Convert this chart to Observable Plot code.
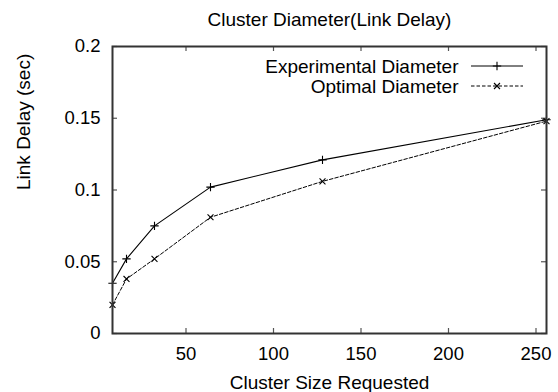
<!DOCTYPE html>
<html>
<head>
<meta charset="utf-8">
<script src="https://cdn.jsdelivr.net/npm/d3@7"></script>
<script src="https://cdn.jsdelivr.net/npm/@observablehq/plot@0.6"></script>
<style>
  html, body { margin: 0; padding: 0; background: #fff; }
  #chart { width: 558px; height: 392px; }
</style>
</head>
<body>
<div id="chart"></div>
<script>
// ---- data ----
const clusterSizes = [8, 16, 32, 64, 128, 256];
const experimentalDiameter = [0.035, 0.052, 0.075, 0.102, 0.121, 0.149];
const optimalDiameter = [0.020, 0.038, 0.052, 0.081, 0.106, 0.148];
const xTicks = [50, 100, 150, 200, 250];
const yTicks = [0, 0.05, 0.1, 0.15, 0.2];
const yTickLabels = ["0", "0.05", "0.1", "0.15", "0.2"];
const seriesNames = ["Experimental Diameter", "Optimal Diameter"];
const titleText = "Cluster Diameter(Link Delay)";
const xLabel = "Cluster Size Requested";
const yLabel = "Link Delay (sec)";

// ---- layout ----
const W = 558, H = 392;
const mL = 112, mR = 12, mT = 46, mB = 59;
const frameW = W - mL - mR, frameH = H - mT - mB;
const tickLen = 5;
const FONT = "'Liberation Sans', Arial, Helvetica, sans-serif";
const DASH = "3.5,2";

const expData = clusterSizes.map((s, i) => ({x: s, y: experimentalDiameter[i]}));
const optData = clusterSizes.map((s, i) => ({x: s, y: optimalDiameter[i]}));

const plot = Plot.plot({
  width: W, height: H,
  marginLeft: mL, marginRight: mR, marginTop: mT, marginBottom: mB,
  style: {fontFamily: FONT, fontSize: "18.5px", background: "#fff", color: "#000", overflow: "visible"},
  x: {domain: [8, 256]},
  y: {domain: [0, 0.2]},
  marks: [
    // inward ticks (gnuplot style, mirrored)
    Plot.tickX(xTicks, {x: d => d, insetTop: frameH - tickLen, stroke: "#555", strokeWidth: 1.2}),
    Plot.tickX(xTicks, {x: d => d, insetBottom: frameH - tickLen, stroke: "#555", strokeWidth: 1.2}),
    Plot.tickY(yTicks, {y: d => d, insetRight: frameW - tickLen, stroke: "#555", strokeWidth: 1.2}),
    Plot.tickY(yTicks, {y: d => d, insetLeft: frameW - tickLen, stroke: "#555", strokeWidth: 1.2}),
    Plot.axisX({ticks: xTicks, tickSize: 0, tickPadding: 13, tickFormat: d => String(d), label: null}),
    Plot.axisY({ticks: yTicks, tickSize: 0, tickPadding: 12, tickFormat: d => yTickLabels[yTicks.indexOf(d)], label: null}),
    // series
    Plot.line(optData, {x: "x", y: "y", stroke: "#000", strokeWidth: 1, strokeDasharray: DASH}),
    Plot.line(expData, {x: "x", y: "y", stroke: "#000", strokeWidth: 1.1}),
    Plot.dot(optData, {x: "x", y: "y", symbol: "times", r: 2.8, stroke: "#000", strokeWidth: 1.1, fill: "none"}),
    Plot.dot(expData, {x: "x", y: "y", symbol: "plus", r: 2.8, stroke: "#000", strokeWidth: 1.1, fill: "none"}),
    Plot.frame({stroke: "#333", strokeWidth: 2}),
    // legend labels
    Plot.text([seriesNames[0]], {text: d => d, frameAnchor: "top-right", textAnchor: "end", lineAnchor: "middle", dx: -88, dy: 20, fontSize: 19, fill: "#000"}),
    Plot.text([seriesNames[1]], {text: d => d, frameAnchor: "top-right", textAnchor: "end", lineAnchor: "middle", dx: -88, dy: 40, fontSize: 19, fill: "#000"}),
    // title & axis labels
    Plot.text([titleText], {text: d => d, frameAnchor: "top", lineAnchor: "middle", dy: -26.5, fontSize: 19, fill: "#000"}),
    Plot.text([xLabel], {text: d => d, frameAnchor: "bottom", lineAnchor: "middle", dy: 49, fontSize: 19, fill: "#000"}),
    Plot.text([yLabel], {text: d => d, frameAnchor: "left", lineAnchor: "middle", dx: -89, rotate: -90, fontSize: 19, fill: "#000"})
  ]
});

// legend line samples (layout only, positioned relative to the frame)
const svg = d3.select(plot);
const fr = W - mR;
const rows = [
  {dy: 20, dash: null, symbol: d3.symbolPlus},
  {dy: 40, dash: DASH, symbol: d3.symbolTimes}
];
rows.forEach(r => {
  const y = mT + r.dy;
  const x0 = fr - 75, x1 = fr - 23, xm = (x0 + x1) / 2;
  const ln = svg.append("line").attr("x1", x0).attr("x2", x1).attr("y1", y).attr("y2", y)
    .attr("stroke", "#000").attr("stroke-width", 1);
  if (r.dash) ln.attr("stroke-dasharray", r.dash);
  svg.append("path").attr("d", d3.symbol(r.symbol, 25)())
    .attr("transform", `translate(${xm},${y})`)
    .attr("fill", "none").attr("stroke", "#000").attr("stroke-width", 1.1);
});

document.getElementById("chart").appendChild(plot);
</script>
</body>
</html>
